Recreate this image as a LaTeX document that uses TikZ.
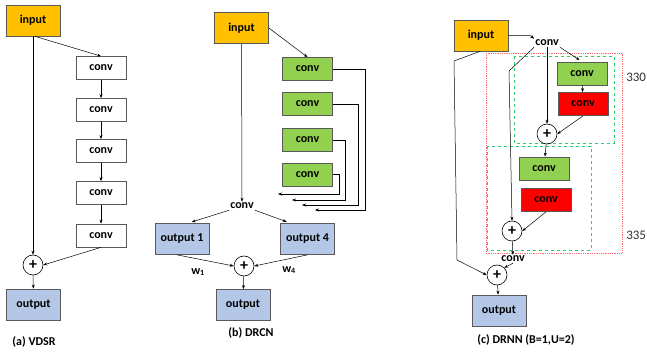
\documentclass[tikz,border=0pt]{standalone}
\usepackage{fontspec}
\setmainfont{Carlito}
\usetikzlibrary{arrows.meta,positioning}

\definecolor{inyellow}{HTML}{FFC000}
\definecolor{convgreen}{HTML}{92D050}
\definecolor{outblue}{HTML}{B4C7E7}
\definecolor{dashgreen}{HTML}{2ECC71}
\definecolor{dotred}{HTML}{FF6B6B}

\tikzset{
  blk/.style={draw=black!65, line width=0.7pt, inner sep=0pt,
              minimum width=50pt, minimum height=23pt,
              font=\fontsize{12}{14}\selectfont\bfseries},
  inbox/.style={blk, fill=inyellow, minimum width=54pt, minimum height=31pt},
  outbox/.style={blk, fill=outblue, minimum width=54pt, minimum height=31pt},
  gconv/.style={blk, fill=convgreen},
  rconv/.style={blk, fill=red},
  wconv/.style={blk, fill=white},
  plus/.style={circle, draw, line width=0.6pt, minimum size=20pt, inner sep=0pt,
               font=\fontsize{16}{16}\selectfont\bfseries},
  txt/.style={inner sep=1pt, font=\fontsize{12}{14}\selectfont\bfseries},
  captxt/.style={font=\fontsize{12}{14}\selectfont\bfseries},
  sidenum/.style={anchor=west, inner sep=0pt, text=black!80,
                  font=\fontsize{13}{13}\selectfont}
}

\begin{document}
\begin{tikzpicture}[x=1pt,y=-1pt,line width=0.5pt,
    >={Stealth[length=4pt,width=3pt]}]
  \clip (0,0) rectangle (647,352);

  % (a) VDSR
  \node[inbox]  (inA)    at (33,20.5)  {input};
  \node[wconv]  (convA1) at (101,68)   {conv};
  \node[wconv]  (convA2) at (101,110)  {conv};
  \node[wconv]  (convA3) at (101,151)  {conv};
  \node[wconv]  (convA4) at (101,193)  {conv};
  \node[wconv]  (convA5) at (101,235.5){conv};
  \node[plus]   (plusA)  at (33,265)   {+};
  \node[outbox] (outA)   at (33.5,304.5) {output};
  \node[captxt] (capA)   at (34,342)   {(a) VDSR};

  \draw[->] (inA) -- (plusA);
  \draw[->] ([xshift=2pt]inA.south) -- (convA1.north);
  \foreach \i/\j in {1/2,2/3,3/4,4/5}
    \draw[->] (convA\i) -- (convA\j);
  \draw[->] (convA5.south) -- (plusA.east);
  \draw[->] (plusA) -- (outA);

  % (b) DRCN
  \node[inbox]  (inB)  at (241.5,28)  {input};
  \node[gconv]  (gB1)  at (307.5,69)  {conv};
  \node[gconv]  (gB2)  at (307.5,104) {conv};
  \node[gconv]  (gB3)  at (307.5,140) {conv};
  \node[gconv]  (gB4)  at (307.5,174.5) {conv};
  \node[txt]    (convB) at (242,206)  {conv};
  \node[outbox] (out1) at (182,239)   {output 1};
  \node[outbox] (out4) at (307.5,239) {output 4};
  \node[plus]   (plusB) at (244,266)  {+};
  \node[outbox] (outB) at (243,305)   {output};
  \node[txt]    (w1)   at (198,272)   {w\textsubscript{1}};
  \node[txt]    (w4)   at (289,270)   {w\textsubscript{4}};
  \node[captxt] (capB) at (251,333)   {(b) DRCN};

  \coordinate (fb1) at (315,210);
  \coordinate (fb2) at (302,205);
  \coordinate (fb3) at (292,200);
  \coordinate (fb4) at (278,194);

  \draw[->] (inB) -- (convB);
  \draw[->] (inB.east) -- (gB1.north);
  \draw[->] (gB1.east) -- ++(32,0) |- (fb1);
  \draw[->] (gB2.east) -- ++(25,0) |- (fb2);
  \draw[->] (gB3.east) -- ++(12,0) |- (fb3);
  \draw[->] (gB4.east) -- ++(6,0)  |- (fb4);
  \draw[->,shorten >=4pt] (convB.south west) -- ([xshift=6pt]out1.north);
  \draw[->,shorten >=4pt] (convB.south east) -- ([xshift=-17pt]out4.north);
  \draw[->] ([xshift=-5pt]out1.south) -- (plusB.west);
  \draw[->] (out4.south) -- (plusB.east);
  \draw[->] (plusB) -- (outB);

  % (c) DRNN
  \draw[dotred, densely dotted, line width=0.8pt] (486,53) rectangle (622,253);
  \draw[dashgreen, dashed, line width=0.8pt] (514,56) rectangle (614,143);
  \draw[dashgreen, dashed, line width=0.8pt] (487,146) rectangle (591,250);

  \node[inbox]  (inC)   at (481,35.5) {input};
  \node[txt]    (convC) at (547,43)   {conv};
  \node[gconv]  (gC1)   at (582,73.5) {conv};
  \node[rconv]  (rC1)   at (583,104)  {conv};
  \node[plus]   (plusC1) at (547,134) {+};
  \node[gconv]  (gC2)   at (544,168.5) {conv};
  \node[rconv]  (rC2)   at (546,200)  {conv};
  \node[plus]   (plusC2) at (512,231) {+};
  \node[txt]    (convD) at (513,259)  {conv};
  \node[plus]   (plusC3) at (497,275) {+};
  \node[outbox] (outC)  at (499,310.5) {output};
  \node[captxt] (capC)  at (526,340)  {(c) DRNN (B=1,U=2)};
  \node[sidenum] (n330) at (626,77)   {330};
  \node[sidenum] (n335) at (626,235)  {335};

  \coordinate (kC) at (509,71);
  \coordinate (kA) at (454,61);
  \coordinate (kB) at (457,260);

  \draw[->] (inC.east) -- ++(22,0) -- (convC.north west);
  \draw[->,shorten >=3pt] (convC.south east) -- (gC1.north);
  \draw[->] (convC) -- (plusC1);
  \draw (convC.south west) -- (kC);
  \draw[->] (kC) -- (plusC2.north);
  \draw[->] ([xshift=-1pt]inC.south) -- (kA) -- (kB) -- (plusC3.west);
  \draw[->] (gC1) -- (rC1);
  \draw[->] (rC1.south) -- (plusC1.east);
  \draw[->] (plusC1) -- (gC2);
  \draw[->] (rC2.south) -- (plusC2.east);
  \draw[->] (plusC2) -- (convD);
  \draw[->] (convD.south) -- (plusC3.north east);
  \draw[->] (plusC3) -- (outC);
\end{tikzpicture}
\end{document}
